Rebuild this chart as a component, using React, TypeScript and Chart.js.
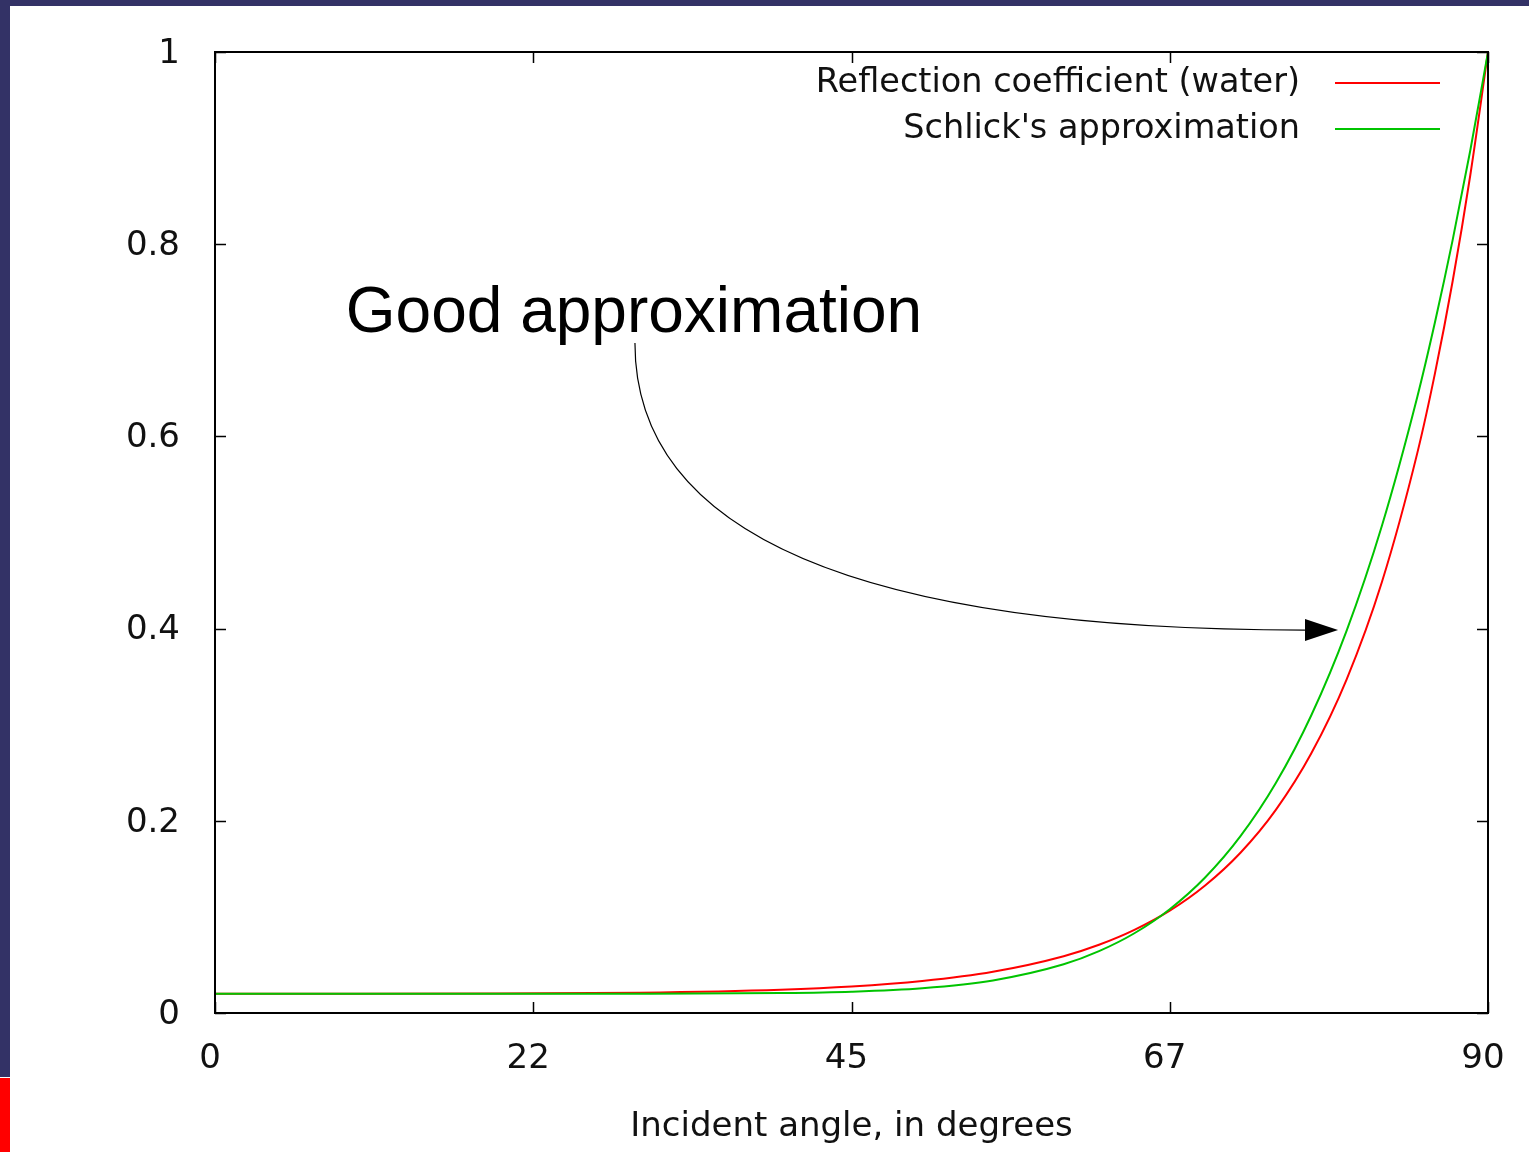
import React, { useEffect, useRef } from 'react';
import { Chart, registerables } from 'chart.js';

Chart.register(...registerables);

// ---- data ----
const angles = [0, 10, 20, 30, 40, 45, 50, 55, 60, 62.5, 65, 67.5, 70, 72.5, 75, 77.5, 80, 82.5, 85, 86.25, 87.5, 88.75, 90];
const reflectionWater = [0.0201, 0.0201, 0.0202, 0.0211, 0.0242, 0.0275, 0.0333, 0.0429, 0.0591, 0.0710, 0.0865, 0.1065, 0.1327, 0.1668, 0.2114, 0.2700, 0.3470, 0.4485, 0.5826, 0.6656, 0.7614, 0.8720, 1];
const schlickApprox = [0.0201, 0.0201, 0.0201, 0.0201, 0.0208, 0.0222, 0.0258, 0.0339, 0.0507, 0.0644, 0.0830, 0.1080, 0.1410, 0.1840, 0.2393, 0.3096, 0.3977, 0.5071, 0.6411, 0.7188, 0.8042, 0.8977, 1];

const seriesLabels = ['Reflection coefficient (water)', "Schlick's approximation"];
const xTickValues = [0, 22.5, 45, 67.5, 90];
const xTickLabels = ['0', '22', '45', '67', '90'];
const yTickValues = [0, 0.2, 0.4, 0.6, 0.8, 1];
const yTickLabels = ['0', '0.2', '0.4', '0.6', '0.8', '1'];
const xAxisTitle = 'Incident angle, in degrees';
const annotationText = 'Good approximation';

// annotation anchor points in data coordinates
const annotText = { x: 9.25, y: 0.7086 };
const arrowStart = { x: 29.69, y: 0.6972 };
const arrowC1 = { x: 29.69, y: 0.4891 };
const arrowC2 = { x: 46.87, y: 0.3985 };
const arrowEnd = { x: 77.06, y: 0.3985 };
const arrowTip = { x: 79.4, y: 0.3985 };

const FONT = '"DejaVu Sans", sans-serif';
const TEXT_COLOR = '#111';

const framePlugin = {
  id: 'frameTicks',
  afterDatasetsDraw(chart: any) {
    const { ctx, chartArea: a, scales } = chart;
    ctx.save();
    ctx.strokeStyle = '#000';
    ctx.lineWidth = 2;
    ctx.strokeRect(a.left, a.top, a.right - a.left, a.bottom - a.top);
    ctx.lineWidth = 1.5;
    ctx.beginPath();
    for (const v of xTickValues) {
      const x = Math.round(scales.x.getPixelForValue(v)) + 0.5;
      ctx.moveTo(x, a.bottom);
      ctx.lineTo(x, a.bottom - 11);
      ctx.moveTo(x, a.top);
      ctx.lineTo(x, a.top + 11);
    }
    for (const v of yTickValues) {
      const y = Math.round(scales.y.getPixelForValue(v)) + 0.5;
      ctx.moveTo(a.left, y);
      ctx.lineTo(a.left + 11, y);
      ctx.moveTo(a.right, y);
      ctx.lineTo(a.right - 11, y);
    }
    ctx.stroke();
    ctx.restore();
  },
};

const legendPlugin = {
  id: 'gnuLegend',
  afterDraw(chart: any) {
    const { ctx, chartArea: a } = chart;
    ctx.save();
    ctx.font = `33.5px ${FONT}`;
    ctx.textAlign = 'right';
    ctx.textBaseline = 'middle';
    chart.data.datasets.forEach((ds: any, i: number) => {
      const y = a.top + 31 + i * 46;
      ctx.fillStyle = TEXT_COLOR;
      ctx.fillText(ds.label, a.right - 188, y);
      ctx.strokeStyle = ds.borderColor;
      ctx.lineWidth = 2;
      ctx.beginPath();
      ctx.moveTo(a.right - 153, y);
      ctx.lineTo(a.right - 48, y);
      ctx.stroke();
    });
    ctx.restore();
  },
};

const annotationPlugin = {
  id: 'annot',
  afterDraw(chart: any) {
    const { ctx, scales } = chart;
    const px = (p: { x: number; y: number }) => [scales.x.getPixelForValue(p.x), scales.y.getPixelForValue(p.y)];
    ctx.save();
    ctx.fillStyle = '#000';
    ctx.font = '64px "Liberation Sans", Arial, sans-serif';
    ctx.textAlign = 'left';
    ctx.textBaseline = 'alphabetic';
    const [tx, ty] = px(annotText);
    ctx.fillText(annotationText, tx, ty);

    const [sx, sy] = px(arrowStart);
    const [c1x, c1y] = px(arrowC1);
    const [c2x, c2y] = px(arrowC2);
    const [ex, ey] = px(arrowEnd);
    const [tipx, tipy] = px(arrowTip);
    ctx.strokeStyle = '#000';
    ctx.lineWidth = 1.2;
    ctx.beginPath();
    ctx.moveTo(sx, sy);
    ctx.bezierCurveTo(c1x, c1y, c2x, c2y, ex, ey);
    ctx.stroke();
    ctx.beginPath();
    ctx.moveTo(tipx, tipy);
    ctx.lineTo(ex, ey - 11);
    ctx.lineTo(ex, ey + 11);
    ctx.closePath();
    ctx.fill();
    ctx.restore();
  },
};

export default function App() {
  const ref = useRef<HTMLCanvasElement>(null);

  useEffect(() => {
    document.body.style.margin = '0';
    const canvas = ref.current!;
    const chart = new Chart(canvas, {
      type: 'line',
      data: {
        datasets: [
          {
            label: seriesLabels[0],
            data: angles.map((a, i) => ({ x: a, y: reflectionWater[i] })),
            borderColor: '#ff0000',
            backgroundColor: '#ff0000',
            borderWidth: 2,
            pointRadius: 0,
            fill: false,
            cubicInterpolationMode: 'monotone',
            order: 1,
          },
          {
            label: seriesLabels[1],
            data: angles.map((a, i) => ({ x: a, y: schlickApprox[i] })),
            borderColor: '#00c400',
            backgroundColor: '#00c400',
            borderWidth: 2,
            pointRadius: 0,
            fill: false,
            cubicInterpolationMode: 'monotone',
            order: 0,
          },
        ],
      },
      options: {
        responsive: false,
        animation: false,
        devicePixelRatio: 1,
        layout: { padding: { top: 52, right: 41, bottom: 0, left: 0 } },
        plugins: {
          legend: { display: false },
          tooltip: { enabled: false },
        },
        scales: {
          x: {
            type: 'linear',
            min: 0,
            max: 90,
            grid: { display: false, drawTicks: false },
            border: { display: false },
            afterBuildTicks: (scale: any) => {
              scale.ticks = xTickValues.map((v) => ({ value: v }));
            },
            afterFit: (scale: any) => {
              scale.height = 139;
              scale.paddingLeft = 0;
              scale.paddingRight = 0;
              scale.paddingTop = 0;
              scale.paddingBottom = 0;
            },
            ticks: {
              padding: 26,
              labelOffset: -5,
              maxRotation: 0,
              autoSkip: false,
              color: TEXT_COLOR,
              font: { family: FONT, size: 34 },
              callback: (_v: any, i: number) => xTickLabels[i],
            },
            title: {
              display: true,
              text: xAxisTitle,
              color: TEXT_COLOR,
              font: { family: FONT, size: 34 },
              padding: { top: 0, bottom: 4 },
            },
          },
          y: {
            type: 'linear',
            min: 0,
            max: 1,
            grid: { display: false, drawTicks: false },
            border: { display: false },
            afterBuildTicks: (scale: any) => {
              scale.ticks = yTickValues.map((v) => ({ value: v }));
            },
            afterFit: (scale: any) => {
              scale.width = 215;
              scale.paddingLeft = 0;
              scale.paddingRight = 0;
              scale.paddingTop = 0;
              scale.paddingBottom = 0;
            },
            ticks: {
              padding: 35,
              labelOffset: 2,
              color: TEXT_COLOR,
              font: { family: FONT, size: 34 },
              callback: (_v: any, i: number) => yTickLabels[i],
            },
          },
        },
      },
      plugins: [framePlugin, legendPlugin, annotationPlugin],
    } as any);
    return () => chart.destroy();
  }, []);

  return (
    <div style={{ position: 'relative', width: 1529, height: 1152, overflow: 'hidden', background: '#fff' }}>
      <canvas ref={ref} width={1529} height={1152} style={{ display: 'block', width: 1529, height: 1152 }} />
      <div style={{ position: 'absolute', left: 0, top: 0, width: 1529, height: 6, background: '#333266' }} />
      <div style={{ position: 'absolute', left: 0, top: 0, width: 10, height: 1077, background: '#333266' }} />
      <div style={{ position: 'absolute', left: 0, top: 1078, width: 10, height: 74, background: '#ff0000' }} />
    </div>
  );
}
